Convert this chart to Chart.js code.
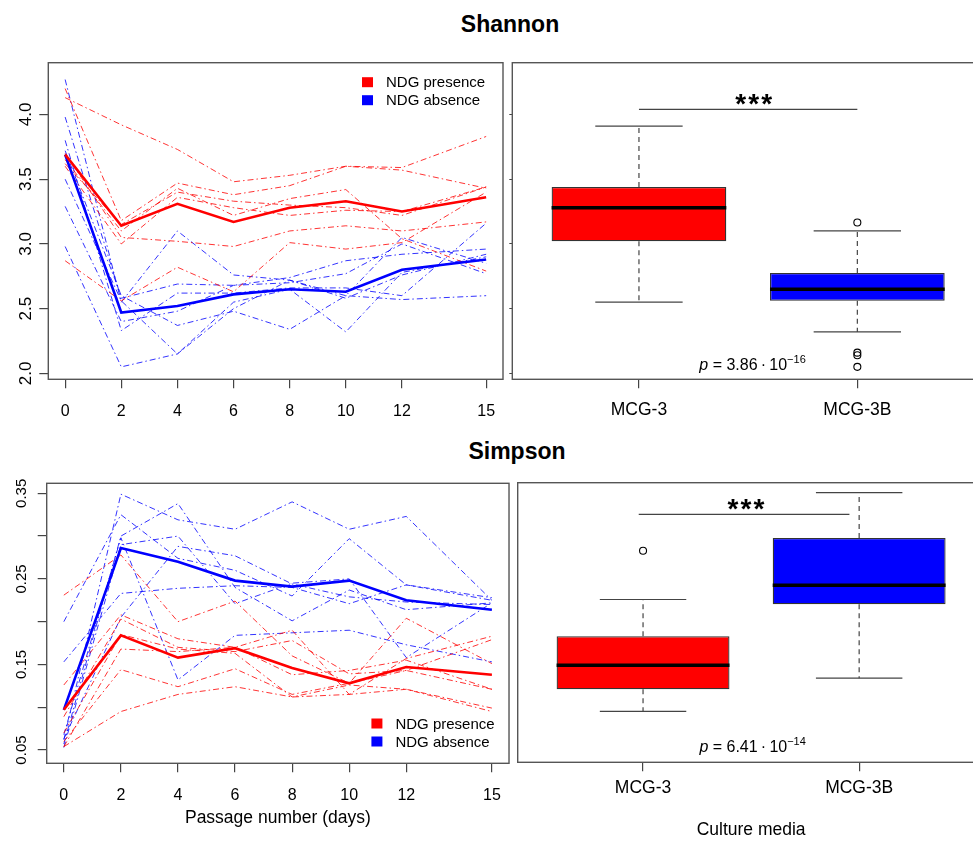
<!DOCTYPE html>
<html>
<head>
<meta charset="utf-8">
<script src="https://cdn.jsdelivr.net/npm/chart.js@4.4.0/dist/chart.umd.min.js"></script>
<style>
  body { margin: 0; width: 973px; height: 841px; overflow: hidden; background: #fff; position: relative;
         font-family: "Liberation Sans", Arial, sans-serif; }
  .panel { position: absolute; }
  .title { position: absolute; font-weight: bold; font-size: 23px; line-height: 23px; transform: translateX(-50%); white-space: nowrap; }
</style>
</head>
<body>
<div class="title" style="left:510px;top:13px">Shannon</div>
<div class="title" style="left:517px;top:440px">Simpson</div>
<canvas class="panel" id="shLine" width="510" height="430" style="left:0;top:0"></canvas>
<canvas class="panel" id="shBox" width="490" height="430" style="left:505px;top:0"></canvas>
<canvas class="panel" id="siLine" width="515" height="401" style="left:0;top:440px"></canvas>
<canvas class="panel" id="siBox" width="480" height="401" style="left:512px;top:440px"></canvas>
<script>
// passage days (x axis)
const days = [0, 2, 4, 6, 8, 10, 12, 15];
const groupLabels = ['NDG presence', 'NDG absence'];
const media = ['MCG-3', 'MCG-3B'];

// Shannon, single cultures
const shannonPresence = [
  [4.13, 3.92, 3.73, 3.48, 3.53, 3.60, 3.59, 3.83],
  [4.20, 3.18, 3.47, 3.38, 3.45, 3.60, 3.57, 3.43],
  [3.65, 3.10, 3.43, 3.22, 3.35, 3.42, 3.04, 2.79],
  [3.62, 3.15, 3.40, 3.33, 3.30, 3.28, 3.22, 3.44],
  [3.60, 3.00, 3.36, 3.28, 3.22, 3.26, 3.25, 3.44],
  [3.70, 3.05, 3.02, 2.98, 3.10, 3.14, 3.10, 3.17],
  [2.87, 2.56, 2.82, 2.63, 3.01, 2.96, 3.01, 3.40]
];
const shannonAbsence = [
  [4.27, 2.55, 3.10, 2.76, 2.72, 2.60, 3.05, 2.85],
  [3.98, 2.58, 2.69, 2.68, 2.74, 2.87, 2.92, 2.96],
  [3.80, 2.33, 2.62, 2.62, 2.66, 2.66, 2.60, 3.16],
  [3.72, 2.60, 2.37, 2.48, 2.34, 2.60, 2.57, 2.60],
  [3.50, 2.56, 2.15, 2.55, 2.65, 2.32, 2.78, 2.90],
  [3.29, 2.40, 2.48, 2.68, 2.70, 2.77, 3.00, 2.77],
  [2.98, 2.05, 2.15, 2.50, 2.72, 2.58, 2.76, 2.92]
];
const shannonPresenceMean = [3.69, 3.14, 3.31, 3.17, 3.28, 3.33, 3.25, 3.36];
const shannonAbsenceMean = [3.69, 2.47, 2.52, 2.61, 2.65, 2.63, 2.80, 2.88];
const shannonTicks = [2.0, 2.5, 3.0, 3.5, 4.0];

// Simpson, single cultures
const simpsonPresence = [
  [0.231, 0.278, 0.200, 0.224, 0.160, 0.128, 0.204, 0.151],
  [0.126, 0.208, 0.180, 0.170, 0.190, 0.115, 0.157, 0.183],
  [0.089, 0.203, 0.170, 0.165, 0.178, 0.139, 0.143, 0.179],
  [0.054, 0.168, 0.165, 0.170, 0.138, 0.143, 0.155, 0.121],
  [0.070, 0.185, 0.168, 0.163, 0.112, 0.126, 0.121, 0.099],
  [0.060, 0.144, 0.124, 0.145, 0.115, 0.128, 0.143, 0.121],
  [0.054, 0.095, 0.115, 0.124, 0.112, 0.115, 0.121, 0.095]
];
const simpsonAbsence = [
  [0.062, 0.349, 0.319, 0.308, 0.340, 0.308, 0.323, 0.225],
  [0.200, 0.325, 0.274, 0.260, 0.230, 0.297, 0.243, 0.228],
  [0.057, 0.300, 0.338, 0.240, 0.201, 0.237, 0.214, 0.222],
  [0.068, 0.298, 0.132, 0.184, 0.187, 0.190, 0.173, 0.153],
  [0.153, 0.233, 0.239, 0.242, 0.240, 0.221, 0.243, 0.225],
  [0.053, 0.290, 0.300, 0.221, 0.245, 0.250, 0.158, 0.222],
  [0.063, 0.205, 0.288, 0.277, 0.244, 0.229, 0.223, 0.220]
];
const simpsonPresenceMean = [0.097, 0.184, 0.158, 0.169, 0.146, 0.128, 0.147, 0.138];
const simpsonAbsenceMean = [0.097, 0.286, 0.270, 0.248, 0.241, 0.248, 0.225, 0.214];
const simpsonTicks = [0.05, 0.10, 0.15, 0.20, 0.25, 0.30, 0.35];
const simpsonTickLabels = ['0.05', '', '0.15', '', '0.25', '', '0.35'];

// box plot summaries per medium [MCG-3, MCG-3B]
const shannonLow = [2.55, 2.32];
const shannonQ1 = [3.02, 2.56];
const shannonMedian = [3.28, 2.65];
const shannonQ3 = [3.44, 2.775];
const shannonHigh = [3.91, 3.10];
const shannonOutliers = [[], [3.165, 2.16, 2.14, 2.05]];

const simpsonLow = [0.094, 0.133];
const simpsonQ1 = [0.120, 0.2195];
const simpsonMedian = [0.148, 0.2417];
const simpsonQ3 = [0.182, 0.297];
const simpsonHigh = [0.225, 0.350];
const simpsonOutliers = [[0.282], []];

const RED = '#ff0000', BLUE = '#0000ff';
const FONT = '"Liberation Sans", Arial, sans-serif';
Chart.defaults.font.family = FONT;
Chart.defaults.color = '#000';
Chart.defaults.animation = false;

const frame = {
  id: 'frame',
  afterDraw(chart) {
    const { ctx, chartArea: a } = chart;
    ctx.save();
    ctx.strokeStyle = '#555';
    ctx.lineWidth = 1.4;
    ctx.strokeRect(a.left, a.top, a.right - a.left, a.bottom - a.top);
    ctx.restore();
  }
};

const keyBox = {
  id: 'keyBox',
  afterDraw(chart, args, o) {
    if (!o.dx) return;
    const { ctx, chartArea: a } = chart;
    const x0 = a.right + o.dx;
    const y0 = (o.fromBottom ? a.bottom : a.top) + o.dy;
    ctx.save();
    ctx.font = '15px ' + FONT;
    ctx.textBaseline = 'middle';
    [RED, BLUE].forEach((c, i) => {
      const yc = y0 + i * 18;
      ctx.fillStyle = c;
      ctx.fillRect(x0, yc - 5, 11, 10);
      ctx.fillStyle = '#000';
      ctx.fillText(groupLabels[i], x0 + 24, yc + 1);
    });
    ctx.restore();
  }
};

const line = (ctx, x1, y1, x2, y2) => {
  ctx.beginPath(); ctx.moveTo(x1, y1); ctx.lineTo(x2, y2); ctx.stroke();
};

const boxParts = {
  id: 'boxParts',
  afterDatasetsDraw(chart, args, o) {
    if (!o.median) return;
    const { ctx, scales: { x, y } } = chart;
    const bars = chart.getDatasetMeta(0).data;
    ctx.save();
    o.median.forEach((m, i) => {
      const cx = x.getPixelForValue(i + 1);
      const half = bars[i].width / 2;
      ctx.strokeStyle = '#444';
      ctx.lineWidth = 1.2;
      ctx.setLineDash([5, 4]);
      line(ctx, cx, y.getPixelForValue(o.q3[i]), cx, y.getPixelForValue(o.high[i]));
      line(ctx, cx, y.getPixelForValue(o.q1[i]), cx, y.getPixelForValue(o.low[i]));
      ctx.setLineDash([]);
      const yh = y.getPixelForValue(o.high[i]), yl = y.getPixelForValue(o.low[i]);
      line(ctx, cx - half / 2, yh, cx + half / 2, yh);
      line(ctx, cx - half / 2, yl, cx + half / 2, yl);
      ctx.strokeStyle = '#000';
      ctx.lineWidth = 3.5;
      const ym = y.getPixelForValue(m);
      line(ctx, cx - half, ym, cx + half, ym);
    });
    ctx.restore();
  }
};

const signif = {
  id: 'signif',
  afterDraw(chart, args, o) {
    if (!o.bracketY) return;
    const { ctx, scales: { x, y } } = chart;
    ctx.save();
    const yb = y.getPixelForValue(o.bracketY);
    ctx.strokeStyle = '#444';
    ctx.lineWidth = 1.2;
    line(ctx, x.getPixelForValue(o.from), yb, x.getPixelForValue(o.to), yb);
    // stars
    ctx.fillStyle = '#000';
    ctx.font = 'bold 28px ' + FONT;
    ctx.textAlign = 'center';
    ctx.textBaseline = 'alphabetic';
    const sx = x.getPixelForValue(o.starsX);
    [-13, 0, 13].forEach(d => ctx.fillText('*', sx + d, yb + 4));
    // p value
    const parts = [
      { t: 'p', f: 'italic 16px ' + FONT, dy: 0 },
      { t: ' = ' + o.pMant + '\u2009\u00b7\u200910', f: '16px ' + FONT, dy: 0 },
      { t: '\u2212' + o.pExp, f: '11px ' + FONT, dy: -7 }
    ];
    let w = 0;
    parts.forEach(p => { ctx.font = p.f; p.w = ctx.measureText(p.t).width; w += p.w; });
    let px = x.getPixelForValue(o.pX) - w / 2;
    const py = y.getPixelForValue(o.pY);
    ctx.textAlign = 'left';
    parts.forEach(p => { ctx.font = p.f; ctx.fillText(p.t, px, py + p.dy); px += p.w; });
    ctx.restore();
  }
};

const pts = arr => arr.map((v, i) => ({ x: days[i], y: v }));

function lineChart(id, presence, absence, presMean, absMean, y, key, xTitle, layout) {
  const thin = (arr, c) => ({ data: pts(arr), borderColor: c, borderWidth: 1, borderDash: [6, 3, 1.5, 3], pointRadius: 0 });
  new Chart(document.getElementById(id), {
    type: 'line',
    data: {
      datasets: [
        { data: pts(presMean), borderColor: RED, borderWidth: 2.6, pointRadius: 0 },
        { data: pts(absMean), borderColor: BLUE, borderWidth: 2.6, pointRadius: 0 },
        ...presence.map(a => thin(a, 'rgba(255,0,0,0.8)')),
        ...absence.map(a => thin(a, 'rgba(0,0,255,0.8)'))
      ]
    },
    options: {
      responsive: false,
      layout: { padding: layout.padding },
      plugins: { legend: { display: false }, tooltip: { enabled: false }, keyBox: key },
      scales: {
        x: {
          type: 'linear', min: -0.6, max: 15.6, bounds: 'data',
          afterBuildTicks: s => { s.ticks = days.map(v => ({ value: v })); },
          ticks: { font: { size: 16 }, padding: 14, maxRotation: 0, autoSkip: false },
          grid: { drawOnChartArea: false, tickLength: 9, color: '#444', lineWidth: 1.2 },
          border: { display: false },
          title: { display: !!xTitle, text: xTitle, font: { size: 17.5 }, padding: 0 },
          afterFit: s => { s.height = layout.xHeight; }
        },
        y: {
          type: 'linear', min: y.min, max: y.max, bounds: 'data',
          afterBuildTicks: s => { s.ticks = y.ticks.map(v => ({ value: v })); },
          ticks: { font: { size: y.font }, padding: 1, minRotation: 90, maxRotation: 90, crossAlign: 'center', autoSkip: false, callback: y.label },
          grid: { drawOnChartArea: false, tickLength: 9, color: '#444', lineWidth: 1.2 },
          border: { display: false },
          afterFit: s => { s.width = layout.yWidth; }
        }
      }
    },
    plugins: [frame, keyBox]
  });
}

function boxChart(id, st, y, sig, xTitle, layout) {
  const outliers = [];
  st.outliers.forEach((list, i) => list.forEach(v => outliers.push({ x: i + 1, y: v })));
  new Chart(document.getElementById(id), {
    type: 'bar',
    data: {
      datasets: [
        { type: 'bar', data: media.map((m, i) => ({ x: i + 1, y: [st.q1[i], st.q3[i]] })),
          backgroundColor: [RED, BLUE], borderColor: '#333', borderWidth: 1.3, borderSkipped: false,
          categoryPercentage: 1, barPercentage: 0.8 },
        { type: 'scatter', data: outliers, pointRadius: 3.5, pointStyle: 'circle',
          backgroundColor: 'rgba(0,0,0,0)', borderColor: '#000', borderWidth: 1.1 }
      ]
    },
    options: {
      responsive: false,
      layout: { padding: layout.padding },
      plugins: { legend: { display: false }, tooltip: { enabled: false }, boxParts: st, signif: sig },
      scales: {
        x: {
          type: 'linear', min: 0.42, max: 2.58, bounds: 'data', offset: false,
          afterBuildTicks: s => { s.ticks = media.map((m, i) => ({ value: i + 1 })); },
          ticks: { font: { size: 17.5 }, padding: layout.labelPad, maxRotation: 0, autoSkip: false, callback: v => media[v - 1] },
          grid: { offset: false, drawOnChartArea: false, tickLength: 9, color: '#444', lineWidth: 1.2 },
          border: { display: false },
          title: { display: !!xTitle, text: xTitle, font: { size: 17.5 }, padding: 0 },
          afterFit: s => { s.height = layout.xHeight; }
        },
        y: {
          type: 'linear', min: y.min, max: y.max, bounds: 'data',
          afterBuildTicks: s => { s.ticks = y.ticks.map(v => ({ value: v })); },
          ticks: { display: false },
          grid: { display: layout.yTicks, drawOnChartArea: false, tickLength: 3, color: '#444', lineWidth: 1 },
          border: { display: false },
          afterFit: s => { s.width = layout.yWidth; }
        }
      }
    },
    plugins: [frame, boxParts, signif]
  });
}

const shannonY = { min: 1.954, max: 4.40, ticks: shannonTicks, font: 17, label: v => v.toFixed(1) };
const simpsonY = { min: 0.0345, max: 0.3617, ticks: simpsonTicks, font: 15, label: (v, i) => simpsonTickLabels[i] };

lineChart('shLine', shannonPresence, shannonAbsence, shannonPresenceMean, shannonAbsenceMean, shannonY,
  { dx: -141, dy: 19.5, fromBottom: false }, '',
  { padding: { left: 0, top: 62.7, right: 7, bottom: 0 }, xHeight: 50.7, yWidth: 48.3 });

lineChart('siLine', simpsonPresence, simpsonAbsence, simpsonPresenceMean, simpsonAbsenceMean, simpsonY,
  { dx: -137.6, dy: -39.8, fromBottom: true }, 'Passage number (days)',
  { padding: { left: 0, top: 43.3, right: 5.7, bottom: 12.7 }, xHeight: 65, yWidth: 46.7 });

boxChart('shBox',
  { low: shannonLow, q1: shannonQ1, median: shannonMedian, q3: shannonQ3, high: shannonHigh, outliers: shannonOutliers },
  shannonY,
  { bracketY: 4.04, from: 1, to: 2, starsX: 1.525, pX: 1.52, pY: 2.025, pMant: '3.86', pExp: '16' }, '',
  { padding: { left: 0, top: 62.7, right: 11, bottom: 0 }, xHeight: 50.7, yWidth: 7.3, labelPad: 11, yTicks: true });

boxChart('siBox',
  { low: simpsonLow, q1: simpsonQ1, median: simpsonMedian, q3: simpsonQ3, high: simpsonHigh, outliers: simpsonOutliers },
  simpsonY,
  { bracketY: 0.3246, from: 0.98, to: 1.955, starsX: 1.476, pX: 1.507, pY: 0.0461, pMant: '6.41', pExp: '14' }, 'Culture media',
  { padding: { left: 0, top: 42.7, right: 7.5, bottom: 0 }, xHeight: 78.7, yWidth: 5.7, labelPad: 6, yTicks: false });
</script>
</body>
</html>
